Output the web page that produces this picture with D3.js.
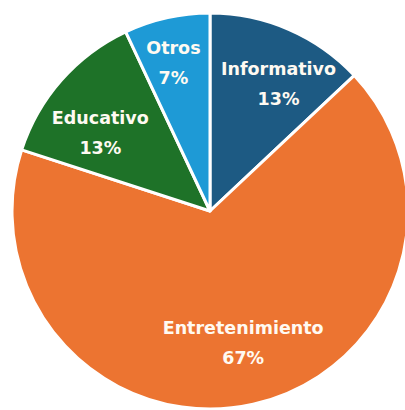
<!DOCTYPE html>
<html><head><meta charset="utf-8">
<script src="https://cdn.jsdelivr.net/npm/d3@7"></script>
<style>html,body{margin:0;padding:0;background:#fff;}</style>
</head><body>
<svg id="chart" width="405" height="410"></svg>
<script>
const categories = ["Informativo", "Entretenimiento", "Educativo", "Otros"];
const values = [13, 67, 13, 7];
const labels = ["13%", "67%", "13%", "7%"];
const colors = ["#1d5a83", "#ec7431", "#1e7228", "#1e9ad6"];

const svg = d3.select("#chart");
const cx = 210, cy = 211, r = 198;
const g = svg.append("g").attr("transform", `translate(${cx},${cy})`);
const data = categories.map((c, i) => ({cat: c, value: values[i], label: labels[i], color: colors[i]}));
const pie = d3.pie().value(d => d.value).sort(null);
const arcs = pie(data);
const arc = d3.arc().innerRadius(0).outerRadius(r);
g.selectAll("path").data(arcs).enter().append("path")
  .attr("d", arc).attr("fill", d => d.data.color)
  .attr("stroke", "#fff").attr("stroke-width", 3).attr("stroke-linejoin", "round");

const labelRadius = [146, 134, 136, 154];
const angleShift = [0.08, -0.03, -0.09, -0.02];
const lbl = g.selectAll("g.lbl").data(arcs).enter().append("g").attr("class", "lbl")
  .attr("transform", (d, i) => {
    const a = (d.startAngle + d.endAngle) / 2 + angleShift[i];
    const rr = labelRadius[i];
    return `translate(${rr * Math.sin(a)},${-rr * Math.cos(a)})`;
  });
lbl.append("text").attr("text-anchor", "middle").attr("y", -7)
  .attr("font-family", "DejaVu Sans").attr("font-weight", "bold").attr("font-size", 17.5)
  .attr("fill", "#fffaf2").text(d => d.data.cat);
lbl.append("text").attr("text-anchor", "middle").attr("y", 23)
  .attr("font-family", "DejaVu Sans").attr("font-weight", "bold").attr("font-size", 17.5)
  .attr("fill", "#fffaf2").text(d => d.data.label);
</script>
</body></html>
